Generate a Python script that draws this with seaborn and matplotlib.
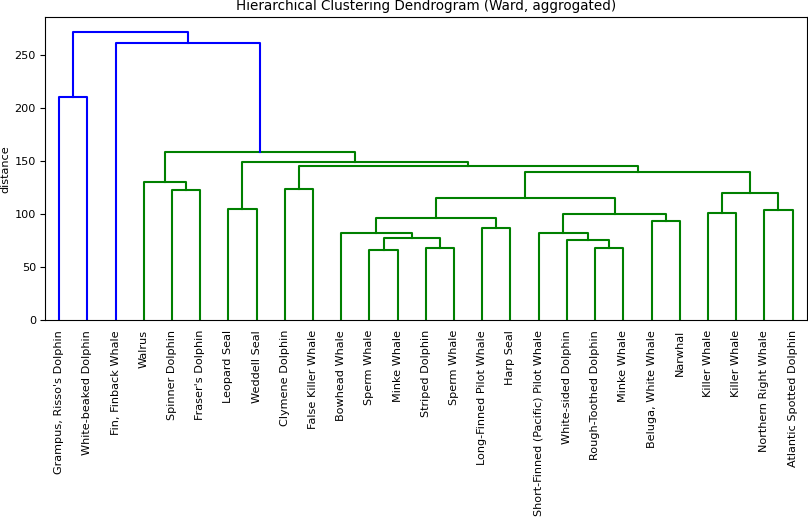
import numpy as np
import pandas as pd
import matplotlib
matplotlib.use("Agg")
import matplotlib.pyplot as plt
import seaborn as sns

plt.rcParams["font.family"] = "DejaVu Sans"
plt.rcParams["font.size"] = 8.1

# leaves in the order they appear along the x axis
leaf_labels = [
    "Grampus, Risso's Dolphin", "White-beaked Dolphin", "Fin, Finback Whale",
    "Walrus", "Spinner Dolphin", "Fraser's Dolphin", "Leopard Seal",
    "Weddell Seal", "Clymene Dolphin", "False Killer Whale", "Bowhead Whale",
    "Sperm Whale", "Minke Whale", "Striped Dolphin", "Sperm Whale",
    "Long-Finned Pilot Whale", "Harp Seal", "Short-Finned (Pacific) Pilot Whale",
    "White-sided Dolphin", "Rough-Toothed Dolphin", "Minke Whale",
    "Beluga, White Whale", "Narwhal", "Killer Whale", "Killer Whale",
    "Northern Right Whale", "Atlantic Spotted Dolphin",
]

# merge steps: ids < 27 are leaves, id 27+k is the k-th merge
merge_left = [11, 13, 19, 18, 27, 10, 17, 15, 21, 32, 33, 23, 25, 6,
              36, 38, 4, 8, 3, 41, 44, 40, 45, 0, 2, 50]
merge_right = [12, 14, 20, 29, 28, 31, 30, 16, 22, 34, 35, 24, 26, 7,
               37, 39, 5, 9, 43, 42, 46, 47, 48, 1, 49, 51]
merge_height = [66.6, 67.9, 67.9, 75.5, 77.8, 82.4, 82.4, 86.7, 93.3, 96.5,
                100.5, 101.4, 104.3, 105.0, 115.1, 119.7, 123.2, 123.8, 131.0,
                139.6, 145.5, 149.9, 159.1, 211.0, 261.7, 272.4]

n_leaves = len(leaf_labels)
threshold = 0.7 * max(merge_height)

node_x = {i: 5 + 10 * i for i in range(n_leaves)}
node_h = {i: 0.0 for i in range(n_leaves)}
rows = []
for k, (a, b, h) in enumerate(zip(merge_left, merge_right, merge_height)):
    node = n_leaves + k
    node_x[node] = (node_x[a] + node_x[b]) / 2
    node_h[node] = h
    grp = "above" if h >= threshold else "below"
    pts = [(node_x[a], node_h[a]), (node_x[a], h), (node_x[b], h), (node_x[b], node_h[b])]
    for i, (x, y) in enumerate(pts):
        rows.append({"x": x, "y": y, "link": k, "order": i, "group": grp})
links = pd.DataFrame(rows)

fig = plt.figure(figsize=(8.08, 5.18), dpi=100)
ax = fig.add_axes([45 / 808, 1 - 320.3 / 518, (806.7 - 45) / 808, (320.3 - 17.3) / 518])

sns.lineplot(data=links, x="x", y="y", units="link", estimator=None, sort=False,
             hue="group", palette={"above": "b", "below": "g"}, legend=False,
             linewidth=1.5, ax=ax)

ax.set_xlim(0, 10 * n_leaves)
ax.set_ylim(0, max(merge_height) * 1.05)
ax.set_xticks([5 + 10 * i for i in range(n_leaves)])
ax.set_xticklabels(leaf_labels, rotation=90)
ax.tick_params(axis="x", length=0, pad=7)
ax.tick_params(axis="y", length=3.5, pad=3)
ax.set_xlabel("")
ax.set_ylabel("distance", labelpad=3)
ax.set_title("Hierarchical Clustering Dendrogram (Ward, aggrogated)", pad=5)

fig.savefig("out.png", dpi=100)
